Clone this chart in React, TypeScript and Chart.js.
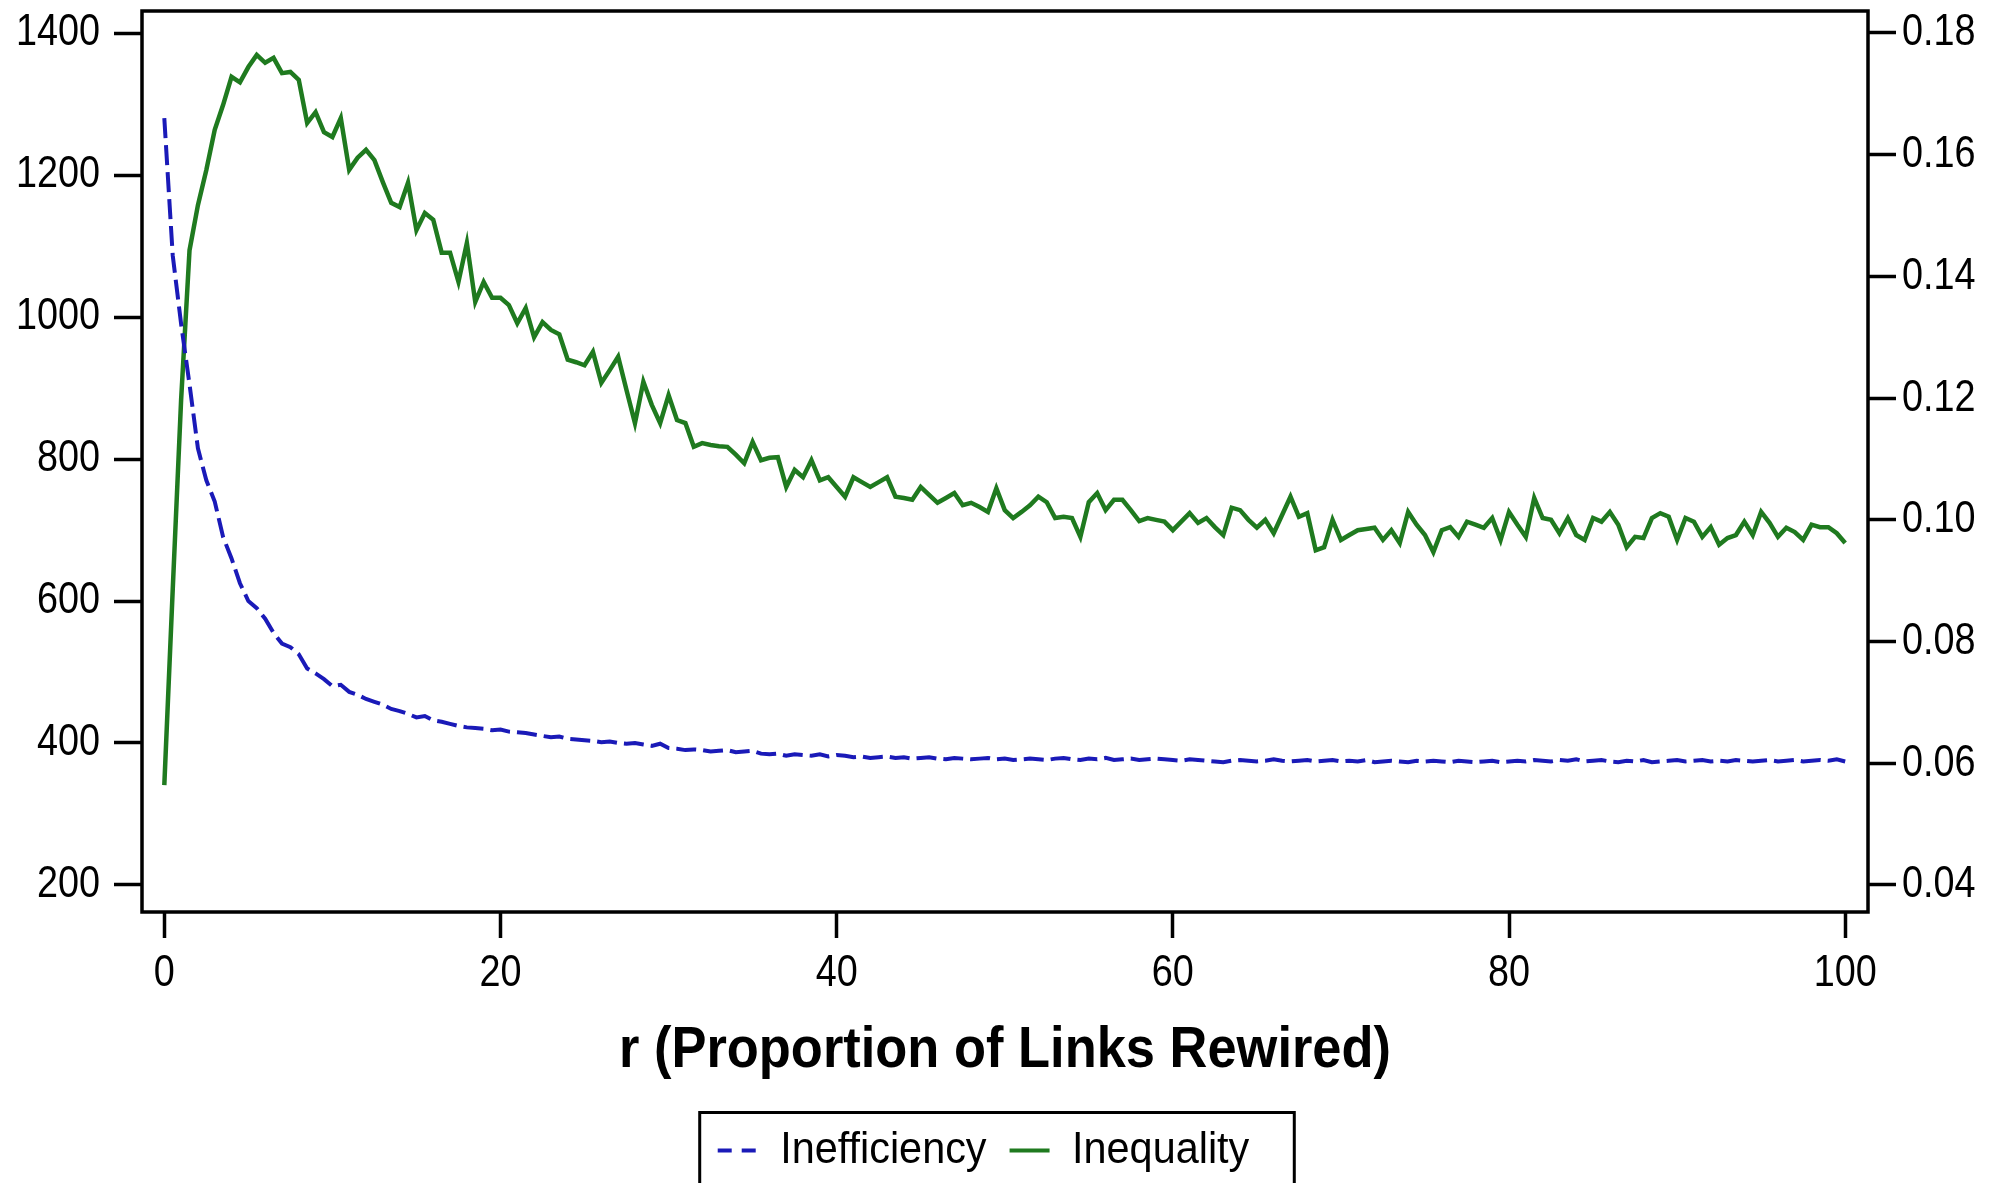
import React, { useEffect, useRef } from "react";
import { Chart, registerables } from "chart.js";

Chart.register(...registerables);

// r (Proportion of Links Rewired)
const rewired = [
  0, 0.5, 1, 1.5, 2, 2.5, 3, 3.5, 4, 4.5, 5, 5.5, 6, 6.5, 7, 7.5, 8, 8.5, 9, 9.5,
  10, 10.5, 11, 11.5, 12, 12.5, 13, 13.5, 14, 14.5, 15, 15.5, 16, 16.5, 17, 17.5, 18, 18.5, 19, 19.5,
  20, 20.5, 21, 21.5, 22, 22.5, 23, 23.5, 24, 24.5, 25, 25.5, 26, 26.5, 27, 27.5, 28, 28.5, 29, 29.5,
  30, 30.5, 31, 31.5, 32, 32.5, 33, 33.5, 34, 34.5, 35, 35.5, 36, 36.5, 37, 37.5, 38, 38.5, 39, 39.5,
  40, 40.5, 41, 41.5, 42, 42.5, 43, 43.5, 44, 44.5, 45, 45.5, 46, 46.5, 47, 47.5, 48, 48.5, 49, 49.5,
  50, 50.5, 51, 51.5, 52, 52.5, 53, 53.5, 54, 54.5, 55, 55.5, 56, 56.5, 57, 57.5, 58, 58.5, 59, 59.5,
  60, 60.5, 61, 61.5, 62, 62.5, 63, 63.5, 64, 64.5, 65, 65.5, 66, 66.5, 67, 67.5, 68, 68.5, 69, 69.5,
  70, 70.5, 71, 71.5, 72, 72.5, 73, 73.5, 74, 74.5, 75, 75.5, 76, 76.5, 77, 77.5, 78, 78.5, 79, 79.5,
  80, 80.5, 81, 81.5, 82, 82.5, 83, 83.5, 84, 84.5, 85, 85.5, 86, 86.5, 87, 87.5, 88, 88.5, 89, 89.5,
  90, 90.5, 91, 91.5, 92, 92.5, 93, 93.5, 94, 94.5, 95, 95.5, 96, 96.5, 97, 97.5, 98, 98.5, 99, 99.5,
  100,
];

// Inefficiency (left axis)
const inefficiency = [
  1280, 1087, 990, 905, 815, 770, 740, 690, 660, 625, 600, 590, 575, 555, 540, 535, 525, 505, 498, 490,
  480, 482, 472, 468, 462, 458, 454, 448, 445, 441, 436, 438, 432, 430, 427, 424, 422, 421, 420, 418,
  419, 416, 415, 414, 412, 410, 408, 409, 406, 405, 404, 403, 401, 402, 400, 399, 400, 398, 396, 399,
  393, 392, 390, 391, 390, 388, 389, 390, 387, 388, 389, 385, 384, 385, 382, 384, 383, 382, 384, 381,
  383, 382, 380, 381, 379, 380, 381, 379, 380, 378, 379, 380, 378, 377, 379, 378, 377, 378, 379, 377,
  378, 376, 377, 378, 377, 376, 378, 379, 377, 376, 378, 377, 379, 376, 377, 378, 376, 377, 378, 377,
  376, 375, 377, 376, 375, 374, 373, 375, 376, 375, 374, 375, 377, 375, 374, 375, 376, 374, 375, 376,
  374, 375, 374, 376, 373, 374, 375, 374, 373, 375, 374, 375, 374, 373, 375, 374, 373, 374, 375, 373,
  374, 375, 374, 376, 375, 374, 376, 375, 377, 374, 375, 376, 374, 373, 375, 374, 376, 373, 374, 375,
  376, 374, 375, 376, 374, 375, 374, 376, 375, 374, 375, 376, 374, 375, 376, 374, 375, 376, 375, 377,
  374,
];

// Inequality (right axis)
const inequality = [
  0.0564, 0.0885, 0.1197, 0.1443, 0.1517, 0.1575, 0.1641, 0.1682, 0.1728, 0.1719, 0.1744, 0.1764, 0.1751, 0.1759, 0.1734, 0.1736, 0.1723, 0.1652, 0.1670, 0.1637,
  0.1629, 0.1660, 0.1575, 0.1595, 0.1608, 0.1591, 0.1555, 0.1521, 0.1514, 0.1554, 0.1476, 0.1504, 0.1493, 0.1439, 0.1439, 0.1391, 0.1455, 0.1358, 0.1391, 0.1365,
  0.1365, 0.1353, 0.1323, 0.1348, 0.1300, 0.1325, 0.1312, 0.1305, 0.1263, 0.1259, 0.1254, 0.1276, 0.1225, 0.1246, 0.1268, 0.1213, 0.1159, 0.1227, 0.1189, 0.1159,
  0.1205, 0.1164, 0.1159, 0.1120, 0.1126, 0.1123, 0.1121, 0.1120, 0.1107, 0.1093, 0.1128, 0.1098, 0.1102, 0.1103, 0.1054, 0.1082, 0.1070, 0.1098, 0.1065, 0.1070,
  0.1054, 0.1038, 0.1070, 0.1062, 0.1054, 0.1062, 0.1070, 0.1038, 0.1036, 0.1033, 0.1054, 0.1041, 0.1028, 0.1036, 0.1044, 0.1024, 0.1028, 0.1021, 0.1013, 0.1052,
  0.1016, 0.1003, 0.1013, 0.1024, 0.1038, 0.1029, 0.1003, 0.1005, 0.1003, 0.0972, 0.1029, 0.1044, 0.1016, 0.1033, 0.1033, 0.1016, 0.0998, 0.1003, 0.1000, 0.0997,
  0.0983, 0.0997, 0.1011, 0.0995, 0.1003, 0.0988, 0.0975, 0.1020, 0.1016, 0.1000, 0.0987, 0.1000, 0.0978, 0.1008, 0.1038, 0.1005, 0.1011, 0.0950, 0.0955, 0.1000,
  0.0967, 0.0975, 0.0983, 0.0985, 0.0987, 0.0967, 0.0983, 0.0962, 0.1013, 0.0992, 0.0975, 0.0947, 0.0983, 0.0988, 0.0972, 0.0997, 0.0992, 0.0987, 0.1003, 0.0967,
  0.1013, 0.0992, 0.0972, 0.1036, 0.1003, 0.1000, 0.0978, 0.1003, 0.0975, 0.0967, 0.1003, 0.0997, 0.1013, 0.0992, 0.0955, 0.0972, 0.0970, 0.1003, 0.1011, 0.1005,
  0.0967, 0.1003, 0.0997, 0.0972, 0.0988, 0.0959, 0.0970, 0.0975, 0.0997, 0.0975, 0.1013, 0.0995, 0.0972, 0.0987, 0.0980, 0.0967, 0.0992, 0.0988, 0.0988, 0.0978,
  0.0962,
];

const xTicks = [0, 20, 40, 60, 80, 100];
const leftTicks = [200, 400, 600, 800, 1000, 1200, 1400];
const rightTicks = [0.04, 0.06, 0.08, 0.1, 0.12, 0.14, 0.16, 0.18];

const xTitle = "r (Proportion of Links Rewired)";
const seriesNames = ["Inefficiency", "Inequality"];

const FONT = "'Liberation Sans', Arial, sans-serif";
const BLUE = "#1a1ab8";
const GREEN = "#1f7a1f";

// horizontal condensing so the text matches the narrow face of the original
const condense = (t: string) => (/^[0-9.\-]+$/.test(t) ? 0.84 : 0.92);

const framePlugin = {
  id: "frameAndLegendBox",
  afterLayout(chart: any) {
    const lg = chart.legend;
    if (lg) {
      lg.left -= 18;
      lg.right -= 18;
    }
  },
  afterDraw(chart: any) {
    const { ctx, chartArea: a } = chart;
    ctx.save();
    ctx.strokeStyle = "#000";
    ctx.lineWidth = 3.5;
    ctx.setLineDash([]);
    ctx.strokeRect(a.left, a.top, a.right - a.left, a.bottom - a.top);
    const lg = chart.legend;
    if (lg && lg.legendHitBoxes && lg.legendHitBoxes.length) {
      const hb = lg.legendHitBoxes;
      const first = hb[0];
      const last = hb[hb.length - 1];
      const left = first.left - 18;
      const right = last.left + last.width + 45;
      const top = first.top + first.height / 2 - 38;
      ctx.lineWidth = 3;
      ctx.strokeRect(left, top, right - left, 300);
    }
    ctx.restore();
  },
};

export default function App() {
  const ref = useRef<HTMLCanvasElement | null>(null);

  useEffect(() => {
    const canvas = ref.current;
    if (!canvas) return;
    const ctx: any = canvas.getContext("2d");
    const origFill = ctx.fillText.bind(ctx);
    const origMeasure = ctx.measureText.bind(ctx);
    ctx.fillText = (text: any, x: number, y: number, maxWidth?: number) => {
      const s = String(text);
      const f = condense(s);
      ctx.save();
      ctx.translate(x, y);
      ctx.scale(f, 1);
      if (maxWidth === undefined || maxWidth === null) origFill(s, 0, 0);
      else origFill(s, 0, 0, maxWidth / f);
      ctx.restore();
    };
    ctx.measureText = (text: any) => {
      const s = String(text);
      const m = origMeasure(s);
      return {
        width: m.width * condense(s),
        actualBoundingBoxAscent: m.actualBoundingBoxAscent,
        actualBoundingBoxDescent: m.actualBoundingBoxDescent,
        actualBoundingBoxLeft: m.actualBoundingBoxLeft * condense(s),
        actualBoundingBoxRight: m.actualBoundingBoxRight * condense(s),
      };
    };

    Chart.defaults.font.family = FONT;
    const tickFont = { family: FONT, size: 45 };
    const zeroPad = (s: any) => {
      s.paddingTop = 0;
      s.paddingBottom = 0;
      s.paddingLeft = 0;
      s.paddingRight = 0;
    };
    const defaultLabels = (Chart.defaults as any).plugins.legend.labels.generateLabels;

    const chart = new Chart(canvas, {
      type: "line",
      data: {
        datasets: [
          {
            label: seriesNames[0],
            data: rewired.map((r, i) => ({ x: r, y: inefficiency[i] })),
            yAxisID: "y",
            borderColor: BLUE,
            backgroundColor: BLUE,
            borderWidth: 4,
            borderDash: [20, 7],
            pointRadius: 0,
            tension: 0,
            fill: false,
          },
          {
            label: seriesNames[1],
            data: rewired.map((r, i) => ({ x: r, y: inequality[i] })),
            yAxisID: "y1",
            borderColor: GREEN,
            backgroundColor: GREEN,
            borderWidth: 4.5,
            pointRadius: 0,
            tension: 0,
            fill: false,
          },
        ],
      },
      options: {
        responsive: false,
        maintainAspectRatio: false,
        devicePixelRatio: 1,
        animation: false,
        events: [],
        layout: { padding: { left: 0, right: 0, top: 11, bottom: 0 }, autoPadding: false },
        plugins: {
          tooltip: { enabled: false },
          legend: {
            display: true,
            position: "bottom",
            labels: {
              font: tickFont,
              color: "#000",
              usePointStyle: true,
              pointStyle: "line",
              pointStyleWidth: 40,
              padding: 23,
              generateLabels: (ch: any) =>
                defaultLabels(ch).map((it: any, i: number) => ({
                  ...it,
                  lineDash: i === 0 ? [14, 10] : [],
                  lineWidth: 4,
                })),
            },
          },
        },
        scales: {
          x: {
            type: "linear",
            min: -1.327,
            max: 101.357,
            afterBuildTicks: (s: any) => {
              s.ticks = xTicks.map((v) => ({ value: v }));
            },
            afterFit: (s: any) => {
              zeroPad(s);
              s.height = 193;
            },
            ticks: {
              font: tickFont,
              color: "#000",
              padding: 9,
              maxRotation: 0,
              autoSkip: false,
              callback: (v: any) => String(v),
            },
            grid: {
              display: true,
              drawOnChartArea: false,
              drawTicks: true,
              tickLength: 26,
              tickWidth: 3.5,
              tickColor: "#000",
            },
            border: { display: false },
            title: {
              display: true,
              text: xTitle,
              color: "#000",
              font: { family: FONT, size: 57, weight: "bold" },
              padding: { top: 0, bottom: 20 },
            },
          },
          y: {
            type: "linear",
            position: "left",
            min: 161.97,
            max: 1430.99,
            afterBuildTicks: (s: any) => {
              s.ticks = leftTicks.map((v) => ({ value: v }));
            },
            afterFit: (s: any) => {
              zeroPad(s);
              s.width = 142;
            },
            ticks: {
              font: tickFont,
              color: "#000",
              padding: 14,
              autoSkip: false,
              callback: (v: any) => String(v),
            },
            grid: {
              display: true,
              drawOnChartArea: false,
              drawTicks: true,
              tickLength: 28,
              tickWidth: 3.5,
              tickColor: "#000",
            },
            border: { display: false },
          },
          y1: {
            type: "linear",
            position: "right",
            min: 0.035563,
            max: 0.18361,
            afterBuildTicks: (s: any) => {
              s.ticks = rightTicks.map((v) => ({ value: v }));
            },
            afterFit: (s: any) => {
              zeroPad(s);
              s.width = 135;
            },
            ticks: {
              font: tickFont,
              color: "#000",
              padding: 6,
              autoSkip: false,
              callback: (v: any) => Number(v).toFixed(2),
            },
            grid: {
              display: true,
              drawOnChartArea: false,
              drawTicks: true,
              tickLength: 28,
              tickWidth: 3.5,
              tickColor: "#000",
            },
            border: { display: false },
          },
        },
      } as any,
      plugins: [framePlugin],
    });
    return () => {
      chart.destroy();
      ctx.fillText = origFill;
      ctx.measureText = origMeasure;
    };
  }, []);

  return (
    <div
      style={{
        position: "fixed",
        left: 0,
        top: 0,
        width: 2003,
        height: 1183,
        background: "#fff",
        overflow: "hidden",
      }}
    >
      <canvas ref={ref} width={2003} height={1183} style={{ display: "block", width: 2003, height: 1183 }} />
    </div>
  );
}
